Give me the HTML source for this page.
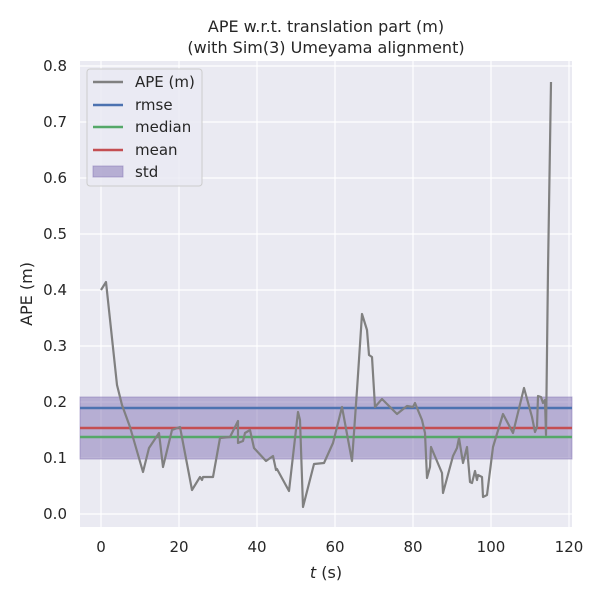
<!DOCTYPE html>
<html><head><style>body{margin:0;background:#fff}svg text{font-family:"DejaVu Sans","Liberation Sans",sans-serif;fill:#262626}</style></head><body>
<svg width="600" height="600" xmlns="http://www.w3.org/2000/svg">
<rect width="600" height="600" fill="#fff"/>
<rect x="80" y="61" width="492" height="466" fill="#eaeaf2"/>
<g stroke="#fff" stroke-width="1.2">
<line x1="101" y1="61" x2="101" y2="527"/><line x1="179" y1="61" x2="179" y2="527"/><line x1="257" y1="61" x2="257" y2="527"/><line x1="335" y1="61" x2="335" y2="527"/><line x1="413" y1="61" x2="413" y2="527"/><line x1="491" y1="61" x2="491" y2="527"/><line x1="569" y1="61" x2="569" y2="527"/>
<line x1="80" y1="514" x2="572" y2="514"/><line x1="80" y1="458" x2="572" y2="458"/><line x1="80" y1="402" x2="572" y2="402"/><line x1="80" y1="346" x2="572" y2="346"/><line x1="80" y1="290" x2="572" y2="290"/><line x1="80" y1="234" x2="572" y2="234"/><line x1="80" y1="178" x2="572" y2="178"/><line x1="80" y1="122" x2="572" y2="122"/><line x1="80" y1="66" x2="572" y2="66"/>
</g>
<rect x="80" y="397" width="492" height="62" fill="#8172b3" fill-opacity="0.5" stroke="#8172b3" stroke-opacity="0.5"/>
<line x1="80" y1="408" x2="572" y2="408" stroke="#4c72b0" stroke-width="2.5"/>
<line x1="80" y1="428" x2="572" y2="428" stroke="#c44e52" stroke-width="2.5"/>
<line x1="80" y1="437" x2="572" y2="437" stroke="#55a868" stroke-width="2.5"/>
<polyline fill="none" stroke="#808080" stroke-width="2.2" stroke-linejoin="round" points="101,290 106,282 117,385 122,405 130,427 143,472 149,448 159,433 163,467 172,430 180,427 192,490 200,477 202,480 203,477 213,477 220,438 230,437 238,421 238,443 243,441 245,433 250,430 254,448 266,461 273,456 276,470 277,469 289,491 298,412 300,420 303,507 314,464 324,463 333,443 342,407 352,461 357,390 362,314 367,330 369,355 372,357 375,407 382,399 397,414 407,406 413,407 415,403 422,420 425,433 427,478 430,467 431,447 442,473 443,493 453,456 457,448 459,438 463,463 467,447 470,482 472,483 475,471 477,480 478,475 482,477 483,497 487,495 493,447 503,414 513,433 524,388 532,417 535,432 537,427 538,396 541,397 543,403 545,400 546,435 548,270 551,82"/>
<g font-size="15" text-anchor="end">
<text x="67" y="519">0.0</text><text x="67" y="463">0.1</text><text x="67" y="407">0.2</text><text x="67" y="351">0.3</text><text x="67" y="295">0.4</text><text x="67" y="239">0.5</text><text x="67" y="183">0.6</text><text x="67" y="127">0.7</text><text x="67" y="71">0.8</text>
</g>
<g font-size="15" text-anchor="middle">
<text x="101" y="552">0</text><text x="179" y="552">20</text><text x="257" y="552">40</text><text x="335" y="552">60</text><text x="413" y="552">80</text><text x="491" y="552">100</text><text x="569" y="552">120</text>
<text x="326" y="578" font-size="16"><tspan font-style="italic">t</tspan> (s)</text>
<text x="326" y="32" font-size="16">APE w.r.t. translation part (m)</text>
<text x="326" y="53" font-size="16">(with Sim(3) Umeyama alignment)</text>
<text transform="translate(32,294) rotate(-90)" font-size="16">APE (m)</text>
</g>
<rect x="87" y="69" width="115" height="117" rx="3" fill="#eaeaf2" fill-opacity="0.8" stroke="#ccc"/>
<line x1="93" y1="82" x2="123" y2="82" stroke="#808080" stroke-width="2.5"/>
<line x1="93" y1="105" x2="123" y2="105" stroke="#4c72b0" stroke-width="2.5"/>
<line x1="93" y1="127" x2="123" y2="127" stroke="#55a868" stroke-width="2.5"/>
<line x1="93" y1="150" x2="123" y2="150" stroke="#c44e52" stroke-width="2.5"/>
<rect x="93" y="166" width="30" height="11" fill="#8172b3" fill-opacity="0.5" stroke="#8172b3" stroke-opacity="0.5"/>
<g font-size="15"><text x="135" y="87">APE (m)</text><text x="135" y="110">rmse</text><text x="135" y="132">median</text><text x="135" y="155">mean</text><text x="135" y="177">std</text></g>
</svg></body></html>
